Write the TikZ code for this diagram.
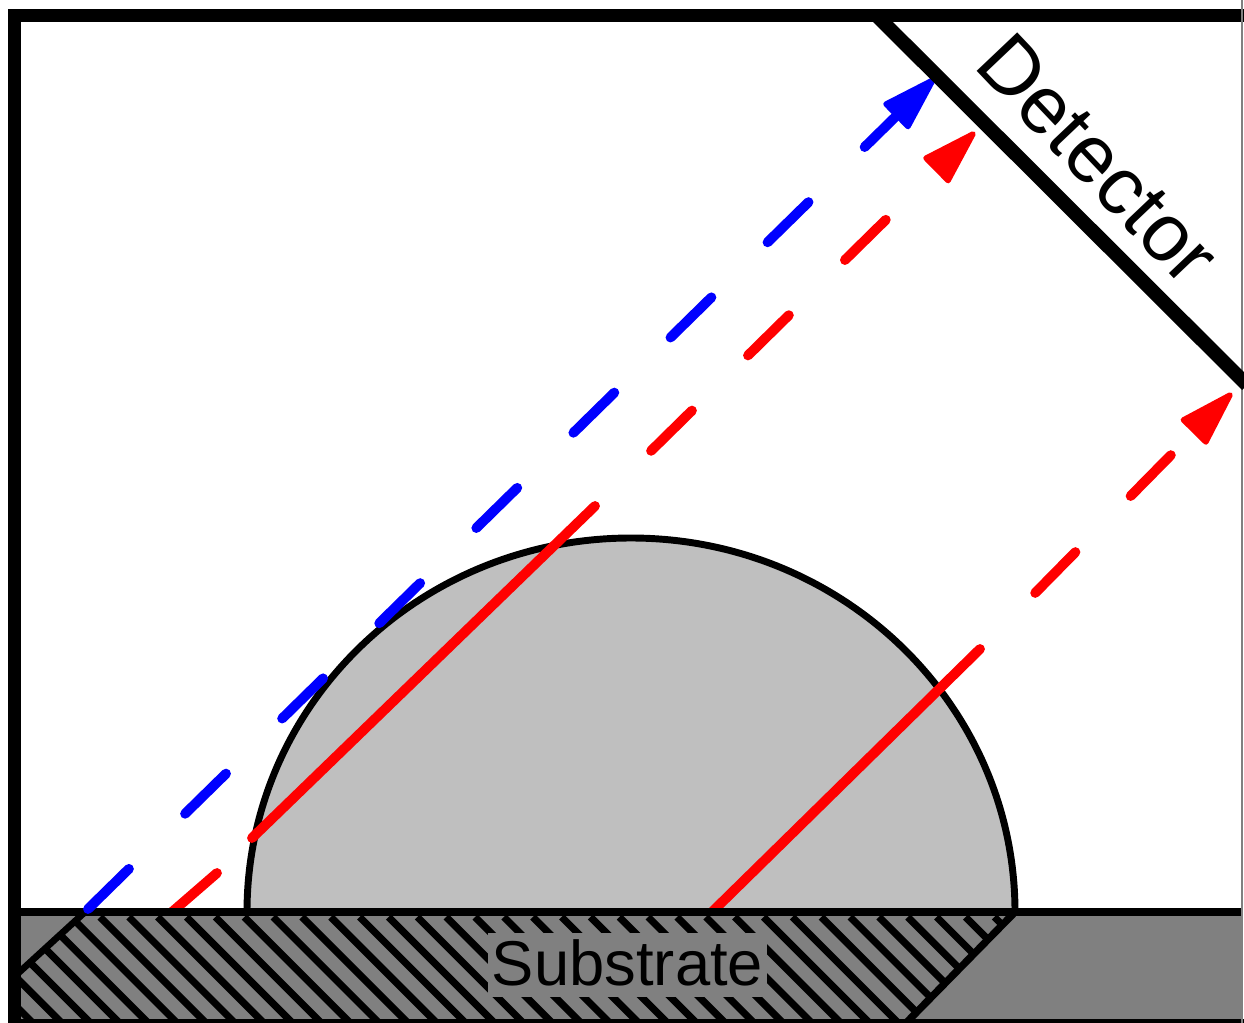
\documentclass[tikz,border=0pt]{standalone}
\usepackage{fontspec}
\setmainfont{Liberation Sans}
\usetikzlibrary{arrows.meta}
\definecolor{dropgray}{HTML}{BFBFBF}
\definecolor{subgray}{HTML}{808080}
\tikzset{
  ray/.style={line width=7.4pt,line cap=round},
  dashray/.style={ray,dash pattern=on 43pt off 59pt,
    -{Triangle[length=47pt,width=28pt,round,line width=4pt]}},
  heavy/.style={black,line width=10pt},
}
\begin{document}
\begin{tikzpicture}[x=0.75pt,y=-0.75pt]
\useasboundingbox (0,0) rectangle (1244,1023);
\fill[white] (0,0) rectangle (1244,1023);
\begin{scope}
\clip (0,0) rectangle (1244,1023);
% coordinates
\coordinate (dropL) at (247,912);
\coordinate (dropR) at (1015,912);
\coordinate (subTL) at (14,912);
\coordinate (subTR) at (1241,912);
\coordinate (subBR) at (1241,1024);
\coordinate (subBL) at (14,1024);
\coordinate (hatchA) at (85,912);
\coordinate (hatchB) at (14,977);
\coordinate (hatchC) at (905,1024);
\coordinate (r1a) at (172,912);
\coordinate (r1b) at (217,873);
\coordinate (r1c) at (252,838);
\coordinate (r1d) at (595,506);
\coordinate (r1t) at (975,132);
\coordinate (r2a) at (712,912);
\coordinate (r2b) at (980,649);
\coordinate (r2t) at (1232,393);
\coordinate (b1) at (88,909);
\coordinate (b1t) at (935,78);
\coordinate (detA) at (875,14);
\coordinate (detB) at (1247,385);
% drop
\draw[fill=dropgray,line width=5.2pt] (dropR) arc[start angle=0,end angle=-180,x radius=384,y radius=374] -- cycle;
% red rays
\draw[red,ray] (r1a) -- (r1b);
\draw[red,ray] (r1c) -- (r1d);
\draw[red,ray] (r2a) -- (r2b);
\draw[red,dashray,dash phase=43pt] (r1d) -- (r1t);
\draw[red,dashray,dash phase=43pt] (r2b) -- (r2t);
% substrate
\fill[subgray] (subTL) -- (subTR) -- (subBR) -- (subBL) -- cycle;
\begin{scope}
\clip (hatchA) -- (dropR) -- (hatchC) -- (subBL) -- (hatchB) -- cycle;
\foreach \k in {-8,...,33}
  \draw[black,line width=5.4pt] ({100+28.85*\k},917) -- ({100+28.85*\k+130},1047);
\end{scope}
\draw[black,line width=5pt] (hatchA) -- (hatchB);
\draw[black,line width=5.5pt] (dropR) -- (hatchC);
\draw[black,line width=6.5pt] (subTL) -- (subTR);
\node[fill=subgray,inner sep=0pt,minimum width=209pt,text height=39pt,text depth=9pt,anchor=base,font=\fontsize{47.5}{50}\selectfont] (sub) at (627.5,985) {Substrate};
% blue ray
\draw[blue,dashray] (b1) -- (b1t);
% frame
\draw[heavy,line cap=butt] (14.5,1026) -- (14.5,15.5) -- (1250,15.5);
\draw[heavy] (8,1026) -- (1250,1026);
\draw[gray,line width=1.5pt] (1241.5,0) -- (1241.5,1023);
% detector
\draw[heavy,line width=10.5pt] (detA) -- (detB);
\node[rotate=-46.5,anchor=base,inner sep=0pt,font=\fontsize{61}{64}\selectfont] (det) at (1078,178) {Detector};
\end{scope}
\end{tikzpicture}
\end{document}
